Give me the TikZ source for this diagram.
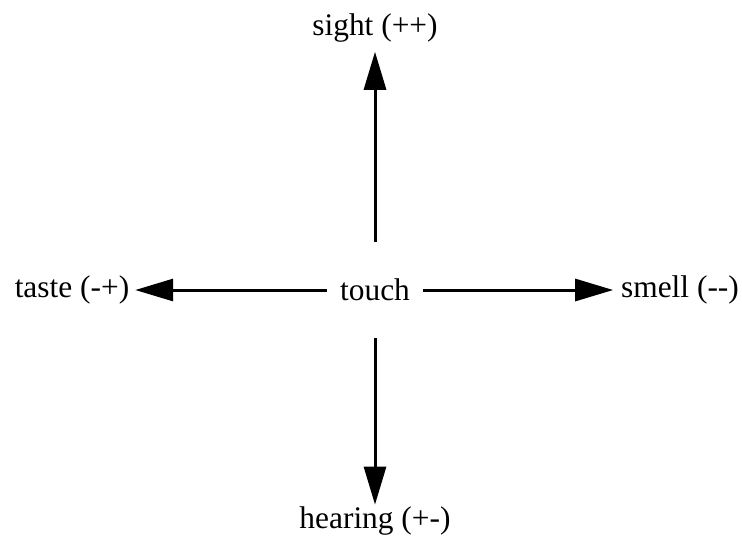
\documentclass[tikz,border=0pt]{standalone}
\usepackage{fontspec}
\setmainfont{Liberation Serif}
\usepackage{tikz}
\usetikzlibrary{arrows.meta, positioning}
\tikzset{
  sense/.style={inner sep=0pt, font=\fontsize{15.7}{19}\selectfont},
  hub/.style={rectangle, inner sep=0pt, minimum width=48pt, minimum height=48pt,
    font=\fontsize{15.7}{19}\selectfont},
  arrow/.style={-{Triangle[length=19pt, width=11pt]}, line width=1.5pt, color=black}
}
\begin{document}
\begin{tikzpicture}[x=0.5pt, y=0.5pt]
  \useasboundingbox (0,0) rectangle (742,538);
  % Centre
  \node[hub] (touch) at (375,248) {touch};
  % Four senses
  \node[sense, anchor=base, outer sep=5pt] (sight) at (375,503) {sight (++)};
  \node[sense, anchor=base, outer sep=0.8pt] (hearing) at (375,10) {hearing (+-)};
  \node[sense, outer sep=3pt] (taste) at (72,248) {taste (-+)};
  \node[sense, outer sep=4pt] (smell) at (680,248) {smell (-{}-)};
  % Arrows out of the centre
  \draw[arrow] (touch) -- (sight);
  \draw[arrow] (touch) -- (hearing);
  \draw[arrow] (touch) -- (taste);
  \draw[arrow] (touch) -- (smell);
\end{tikzpicture}
\end{document}
